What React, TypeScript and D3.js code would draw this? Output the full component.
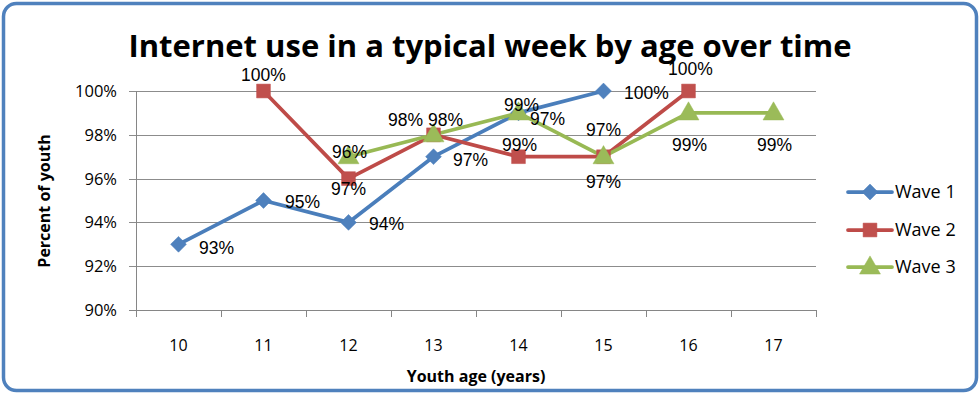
import React from "react";
import * as d3 from "d3";

// ---------- data ----------
const ages = ["10", "11", "12", "13", "14", "15", "16", "17"];
const wave1 = [0.93, 0.95, 0.94, 0.97, 0.99, 1.0, null, null];
const wave2 = [null, 1.0, 0.96, 0.98, 0.97, 0.97, 1.0, null];
const wave3 = [null, null, 0.97, 0.98, 0.99, 0.97, 0.99, 0.99];
const wave1Labels = ["93%", "95%", "94%", "97%", "99%", "100%", null, null];
const wave2Labels = [null, "100%", "97%", "98%", "99%", "97%", "100%", null];
const wave3Labels = [null, null, "96%", "98%", "97%", "97%", "99%", "99%"];
const yTicks = [0.9, 0.92, 0.94, 0.96, 0.98, 1.0];
const seriesNames = ["Wave 1", "Wave 2", "Wave 3"];
const titleText = "Internet use in a typical week by age over time";
const xTitle = "Youth age (years)";
const yTitle = "Percent of youth";

// ---------- layout / style ----------
const W = 980;
const H = 394;
const plot = { left: 136, right: 816, top: 91, bottom: 310 };
const colors = ["#4A7EBB", "#BE4B48", "#98B954"];
const markerFill = ["#4F81BD", "#C0504D", "#9BBB59"];
const symbols = [d3.symbolSquare, d3.symbolSquare, d3.symbolTriangle];
const symbolSizes = [125, 190, 190];
const symbolRotate = [45, 0, 0];
const labelOffsets = [
  [[38, 3], [39, 1], [38, 1], [37, 3], [3, -8], [43, 2], null, null],
  [null, [0, -16], [0, 10], [12, -15], [1, -12], [0, -27], [2, -22], null],
  [null, null, [1, -5], [-28, -15], [29, 6], [0, 25], [1, 32], [1, 32]],
];
const legendY = [192, 230, 267];

const x = d3.scaleBand<string>().domain(ages).range([plot.left, plot.right]);
const y = d3.scaleLinear().domain([0.9, 1.0]).range([plot.bottom, plot.top]);
const fmt = d3.format(".0%");

const seriesValues = [wave1, wave2, wave3];
const seriesLabels = [wave1Labels, wave2Labels, wave3Labels];

const cx = (a: string) => (x(a) as number) + x.bandwidth() / 2;

const line = d3
  .line<[string, number | null]>()
  .defined((d) => d[1] != null)
  .x((d) => cx(d[0]))
  .y((d) => y(d[1] as number));

const LABEL_FONT = "'Liberation Sans', Arial, sans-serif";
const AXIS_FONT = "'Open Sans', 'Liberation Sans', sans-serif";
const TITLE_FONT = "'Open Sans', Lato, sans-serif";

function Marker({ s, px, py }: { s: number; px: number; py: number }) {
  const path = d3.symbol().type(symbols[s]).size(symbolSizes[s])() as string;
  return (
    <path
      d={path}
      transform={`translate(${px},${py + (s === 2 ? 1 : 0)}) rotate(${symbolRotate[s]})`}
      fill={markerFill[s]}
      stroke={colors[s]}
      strokeWidth={0.5}
    />
  );
}

export default function App() {
  const boundaries = [...ages.map((a) => x(a) as number), plot.right];
  return (
    <svg
      width={W}
      height={H}
      style={{ position: "absolute", left: 0, top: 0, background: "#fff" }}
    >
      <rect
        x={3.5}
        y={3.5}
        width={W - 7}
        height={H - 7}
        rx={13}
        ry={13}
        fill="#fff"
        stroke="#4F81BD"
        strokeWidth={3.5}
      />
      {/* title */}
      <text
        x={490}
        y={57}
        textAnchor="middle"
        fontFamily={TITLE_FONT}
        fontWeight="bold"
        fontSize={31}
        fill="#000"
      >
        {titleText}
      </text>

      {/* gridlines */}
      {yTicks.map((t) => (
        <g key={t}>
          <line
            x1={plot.left - 7}
            x2={plot.right}
            y1={Math.round(y(t)) + 0.5}
            y2={Math.round(y(t)) + 0.5}
            stroke={t === 0.9 ? "#868686" : "#8C8C8C"}
            strokeWidth={1}
          />
          <text
            x={117}
            y={y(t)}
            dy="0.36em"
            textAnchor="end"
            fontFamily={AXIS_FONT}
            fontSize={16.5}
            fill="#000"
          >
            {fmt(t)}
          </text>
        </g>
      ))}
      {/* y axis line */}
      <line
        x1={plot.left + 0.5}
        x2={plot.left + 0.5}
        y1={plot.top}
        y2={plot.bottom + 1}
        stroke="#868686"
      />
      {/* x axis ticks */}
      {boundaries.map((b, i) => (
        <line
          key={i}
          x1={Math.round(b) + 0.5}
          x2={Math.round(b) + 0.5}
          y1={plot.bottom}
          y2={plot.bottom + 7}
          stroke="#868686"
        />
      ))}
      {ages.map((a) => (
        <text
          key={a}
          x={cx(a)}
          y={345}
          dy="0.36em"
          textAnchor="middle"
          fontFamily={AXIS_FONT}
          fontSize={16}
          fill="#000"
        >
          {a}
        </text>
      ))}
      {/* axis titles */}
      <text
        x={(plot.left + plot.right) / 2}
        y={382}
        textAnchor="middle"
        fontFamily={AXIS_FONT}
        fontWeight="bold"
        fontSize={16}
        fill="#000"
      >
        {xTitle}
      </text>
      <text
        transform={`translate(50,201) rotate(-90)`}
        textAnchor="middle"
        fontFamily={AXIS_FONT}
        fontWeight="bold"
        fontSize={16}
        fill="#000"
      >
        {yTitle}
      </text>

      {/* series lines */}
      {seriesValues.map((vals, s) => (
        <path
          key={s}
          d={line(ages.map((a, i) => [a, vals[i]])) as string}
          fill="none"
          stroke={colors[s]}
          strokeWidth={3.75}
          strokeLinejoin="round"
          strokeLinecap="round"
        />
      ))}
      {/* markers */}
      {seriesValues.map((vals, s) =>
        ages.map((a, i) =>
          vals[i] == null ? null : (
            <Marker key={`${s}-${a}`} s={s} px={cx(a)} py={y(vals[i] as number)} />
          )
        )
      )}
      {/* data labels */}
      {seriesValues.map((vals, s) =>
        ages.map((a, i) => {
          const lab = seriesLabels[s][i];
          const off = labelOffsets[s][i];
          if (vals[i] == null || lab == null || off == null) return null;
          return (
            <text
              key={`l${s}-${a}`}
              x={cx(a) + off[0]}
              y={y(vals[i] as number) + off[1]}
              dy="0.36em"
              textAnchor="middle"
              fontFamily={LABEL_FONT}
              fontSize={17.5}
              fill="#000"
            >
              {lab}
            </text>
          );
        })
      )}

      {/* legend */}
      {seriesNames.map((n, s) => (
        <g key={n}>
          <line
            x1={848}
            x2={892}
            y1={legendY[s]}
            y2={legendY[s]}
            stroke={colors[s]}
            strokeWidth={3.75}
            strokeLinecap="round"
          />
          <Marker s={s} px={870} py={legendY[s]} />
          <text
            x={895}
            y={legendY[s]}
            dy="0.36em"
            fontFamily={AXIS_FONT}
            fontSize={18}
            fill="#000"
          >
            {n}
          </text>
        </g>
      ))}
    </svg>
  );
}
